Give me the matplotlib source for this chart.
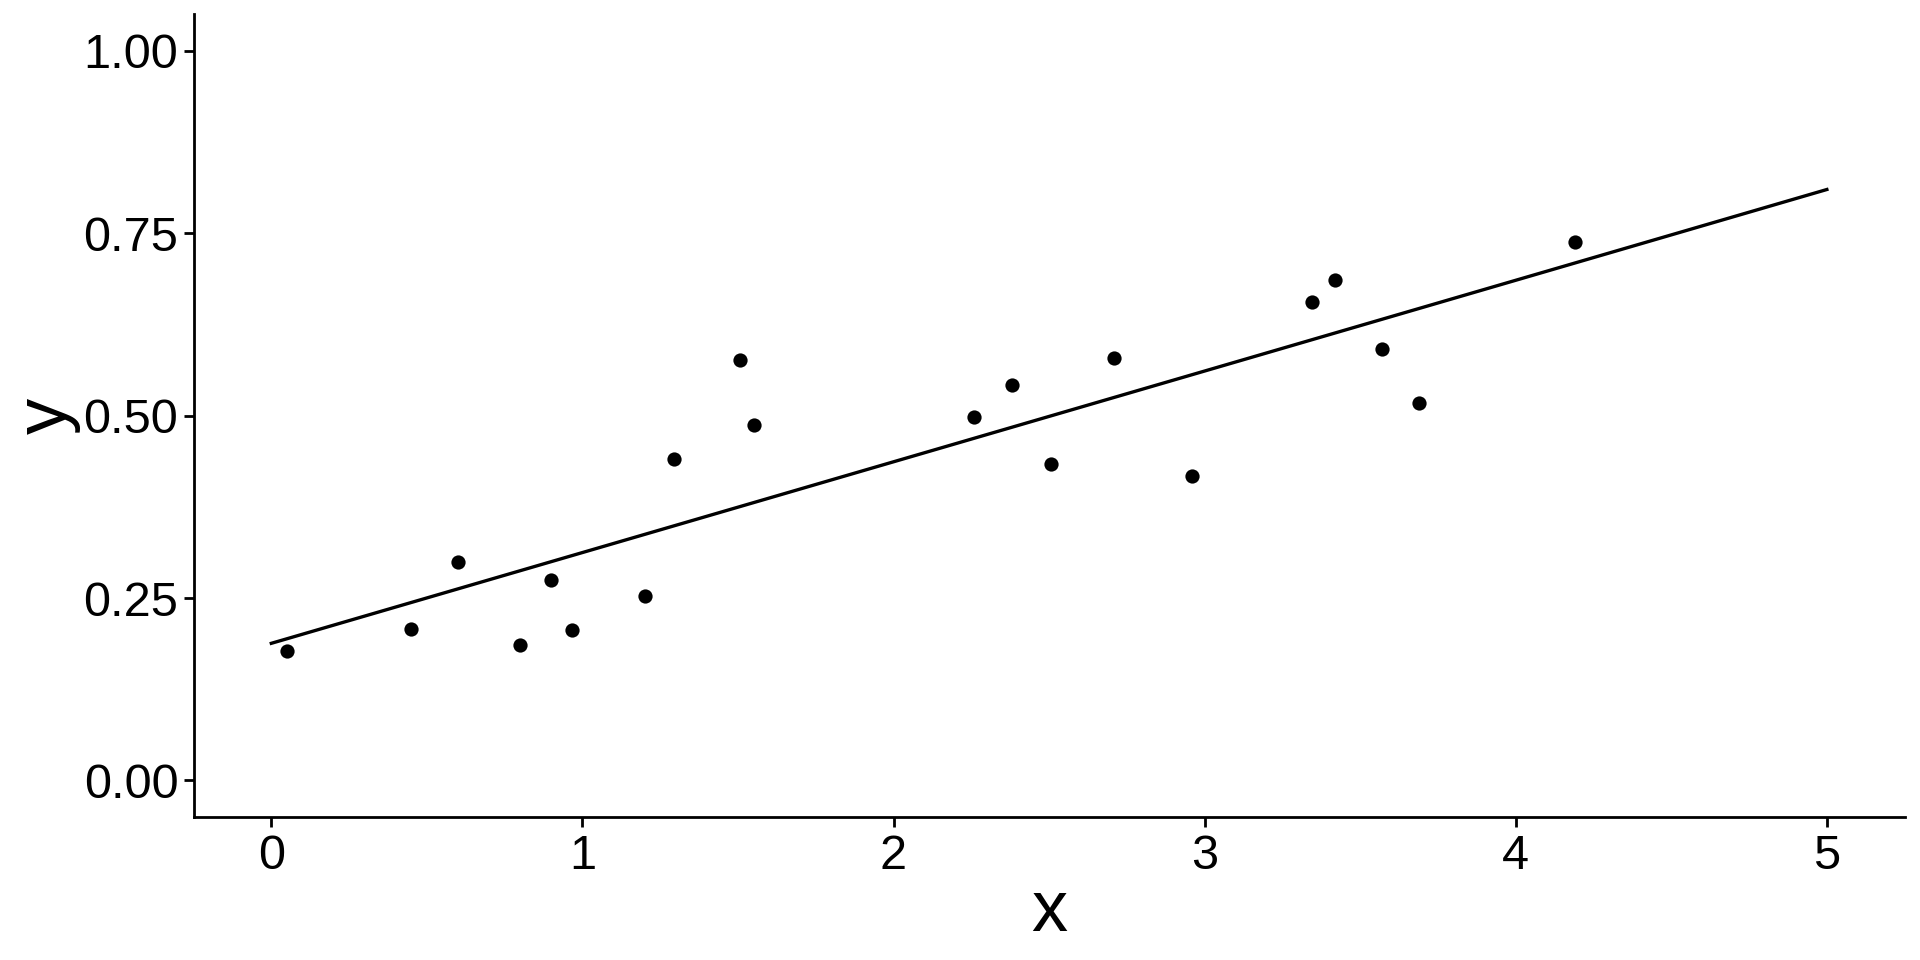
import numpy as np
import matplotlib
matplotlib.use("Agg")
import matplotlib.pyplot as plt

# points
x = [0.05, 0.45, 0.60, 0.80, 0.90, 0.965, 1.20, 1.295, 1.505, 1.55,
     2.26, 2.38, 2.505, 2.71, 2.96, 3.345, 3.42, 3.57, 3.69, 4.19]
y = [0.178, 0.208, 0.299, 0.186, 0.275, 0.206, 0.253, 0.440, 0.577, 0.487,
     0.498, 0.542, 0.434, 0.579, 0.418, 0.656, 0.686, 0.592, 0.517, 0.738]

# fitted line endpoints
line_x = [0, 5]
line_y = [0.188, 0.810]

y_ticks = [0.00, 0.25, 0.50, 0.75, 1.00]
y_ticklabels = ["0.00", "0.25", "0.50", "0.75", "1.00"]
x_ticks = [0, 1, 2, 3, 4, 5]

plt.rcParams['font.family'] = ['Liberation Sans', 'DejaVu Sans']

fig = plt.figure(figsize=(19.2, 9.6), dpi=100)
ax = fig.add_axes([0.1008, 0.149, 0.8912, 0.836])

ax.plot(line_x, line_y, color='black', linewidth=2.4, zorder=2)
ax.scatter(x, y, s=105, color='black', zorder=3, linewidths=0)

ax.set_xlim(-0.25, 5.25)
ax.set_ylim(-0.05, 1.05)
ax.set_xticks(x_ticks)
ax.set_yticks(y_ticks)
ax.set_yticklabels(y_ticklabels)

for side in ['top', 'right']:
    ax.spines[side].set_visible(False)
for side in ['left', 'bottom']:
    ax.spines[side].set_linewidth(2)

ax.tick_params(axis='both', length=7, width=2, labelsize=35, color='black')
ax.tick_params(axis='y', pad=4)
ax.tick_params(axis='x', pad=5)

ax.set_xlabel('x', fontsize=52, labelpad=0)
ax.set_ylabel('y', fontsize=52, labelpad=2)

fig.savefig('out.png', dpi=100, facecolor='white')
